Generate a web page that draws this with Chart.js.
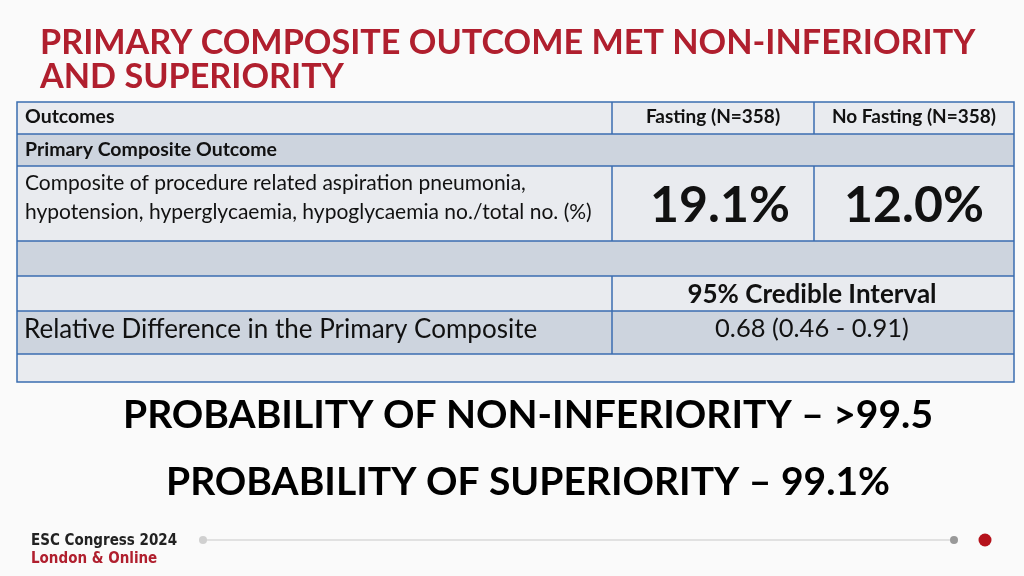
<!DOCTYPE html>
<html><head><meta charset="utf-8">
<script src="https://cdn.jsdelivr.net/npm/chart.js@4"></script>
<style>html,body{margin:0;padding:0;background:#fafafa}#wrap{width:1024px;height:576px}</style>
</head><body><div id="wrap"><canvas id="c" width="1024" height="576"></canvas></div>
<script>
const titleLines = ["PRIMARY COMPOSITE OUTCOME MET NON-INFERIORITY", "AND SUPERIORITY"];
const headers = ["Outcomes", "Fasting (N=358)", "No Fasting (N=358)"];
const sectionLabel = "Primary Composite Outcome";
const outcomeLabel = ["Composite of procedure related aspiration pneumonia,", "hypotension, hyperglycaemia, hypoglycaemia no./total no. (%)"];
const groups = ["Fasting", "No Fasting"];
const rates = [19.1, 12.0];
const ciHeader = "95% Credible Interval";
const diffLabel = "Relative Difference in the Primary Composite";
const ratio = [0.68, 0.46, 0.91];
const probNonInf = ">99.5";
const probSup = "99.1%";
const footer = ["ESC Congress 2024", "London & Online"];

const F = "Lato, 'Open Sans', sans-serif";
const tablePlugin = {
  id: 'slide',
  afterDraw(chart) {
    const ctx = chart.ctx;
    ctx.save();
    ctx.fillStyle = '#b01f2e'; ctx.font = `bold 34.2px ${F}`; ctx.textBaseline = 'alphabetic'; ctx.textAlign = 'left';
    ctx.fillText(titleLines[0], 40, 54); ctx.fillText(titleLines[1], 40, 88);
    const X = [17, 612, 814, 1014];
    const Y = [102, 134, 166, 241, 276, 311, 354, 382];
    const light = '#e9ebef', dark = '#cdd4de';
    for (let i = 0; i < 7; i++) { ctx.fillStyle = i % 2 ? dark : light; ctx.fillRect(X[0], Y[i], X[3] - X[0], Y[i + 1] - Y[i]); }
    ctx.strokeStyle = '#3a6db0'; ctx.lineWidth = 1.5;
    ctx.strokeRect(X[0], Y[0], X[3] - X[0], Y[7] - Y[0]);
    for (let i = 1; i < 7; i++) { ctx.beginPath(); ctx.moveTo(X[0], Y[i]); ctx.lineTo(X[3], Y[i]); ctx.stroke(); }
    const vline = (x, a, b) => { ctx.beginPath(); ctx.moveTo(x, a); ctx.lineTo(x, b); ctx.stroke(); };
    vline(X[1], Y[0], Y[1]); vline(X[2], Y[0], Y[1]);
    vline(X[1], Y[2], Y[3]); vline(X[2], Y[2], Y[3]);
    vline(X[1], Y[4], Y[6]);
    ctx.fillStyle = '#111'; ctx.textBaseline = 'middle';
    ctx.font = `bold 19.5px ${F}`;
    ctx.fillText(headers[0], 25, 117);
    ctx.textAlign = 'center'; ctx.font = `bold 19px ${F}`; ctx.fillText(headers[1], 713, 117); ctx.fillText(headers[2], 914, 117);
    ctx.textAlign = 'left'; ctx.font = `bold 19.5px ${F}`; ctx.fillText(sectionLabel, 25, 150);
    ctx.font = `21px ${F}`;
    ctx.fillText(outcomeLabel[0], 25, 183); ctx.fillText(outcomeLabel[1], 25, 212);
    ctx.font = `bold 50px ${F}`; ctx.textAlign = 'center';
    ctx.fillText(rates[0].toFixed(1) + '%', 720, 206); ctx.fillText(rates[1].toFixed(1) + '%', 914, 206);
    ctx.font = `bold 26px ${F}`; ctx.fillText(ciHeader, 812, 295);
    ctx.font = `25.5px ${F}`;
    ctx.fillText(`${ratio[0].toFixed(2)} (${ratio[1].toFixed(2)} - ${ratio[2].toFixed(2)})`, 812, 329);
    ctx.textAlign = 'left'; ctx.font = `26px ${F}`; ctx.fillText(diffLabel, 24, 330);
    ctx.textAlign = 'center'; ctx.font = `bold 39px ${F}`; ctx.fillStyle = '#000';
    ctx.fillText(`PROBABILITY OF NON-INFERIORITY \u2013 ${probNonInf}`, 528, 415);
    ctx.fillText(`PROBABILITY OF SUPERIORITY \u2013 ${probSup}`, 528, 482);
    ctx.textAlign = 'left'; ctx.font = `bold 15px 'DejaVu Sans Condensed', ${F}`;
    ctx.fillStyle = '#222'; ctx.fillText(footer[0], 31, 541);
    ctx.fillStyle = '#b01f2e'; ctx.fillText(footer[1], 31, 559);
    ctx.strokeStyle = '#d8d8d8'; ctx.lineWidth = 1.5;
    ctx.beginPath(); ctx.moveTo(203, 540); ctx.lineTo(955, 540); ctx.stroke();
    const dot = (x, r, c) => { ctx.fillStyle = c; ctx.beginPath(); ctx.arc(x, 540, r, 0, Math.PI * 2); ctx.fill(); };
    dot(203, 4, '#d0d0d0'); dot(954, 4, '#999'); dot(985, 6.5, '#b5121b');
    ctx.restore();
  }
};
new Chart(document.getElementById('c'), {
  type: 'bar',
  data: { labels: groups, datasets: [{ label: 'Rate (%)', data: rates, backgroundColor: 'rgba(0,0,0,0)' }] },
  options: { responsive: false, animation: false, events: [],
    plugins: { legend: { display: false }, tooltip: { enabled: false } },
    scales: { x: { display: false }, y: { display: false, min: 0, max: 100 } } },
  plugins: [tablePlugin]
});
</script></body></html>
